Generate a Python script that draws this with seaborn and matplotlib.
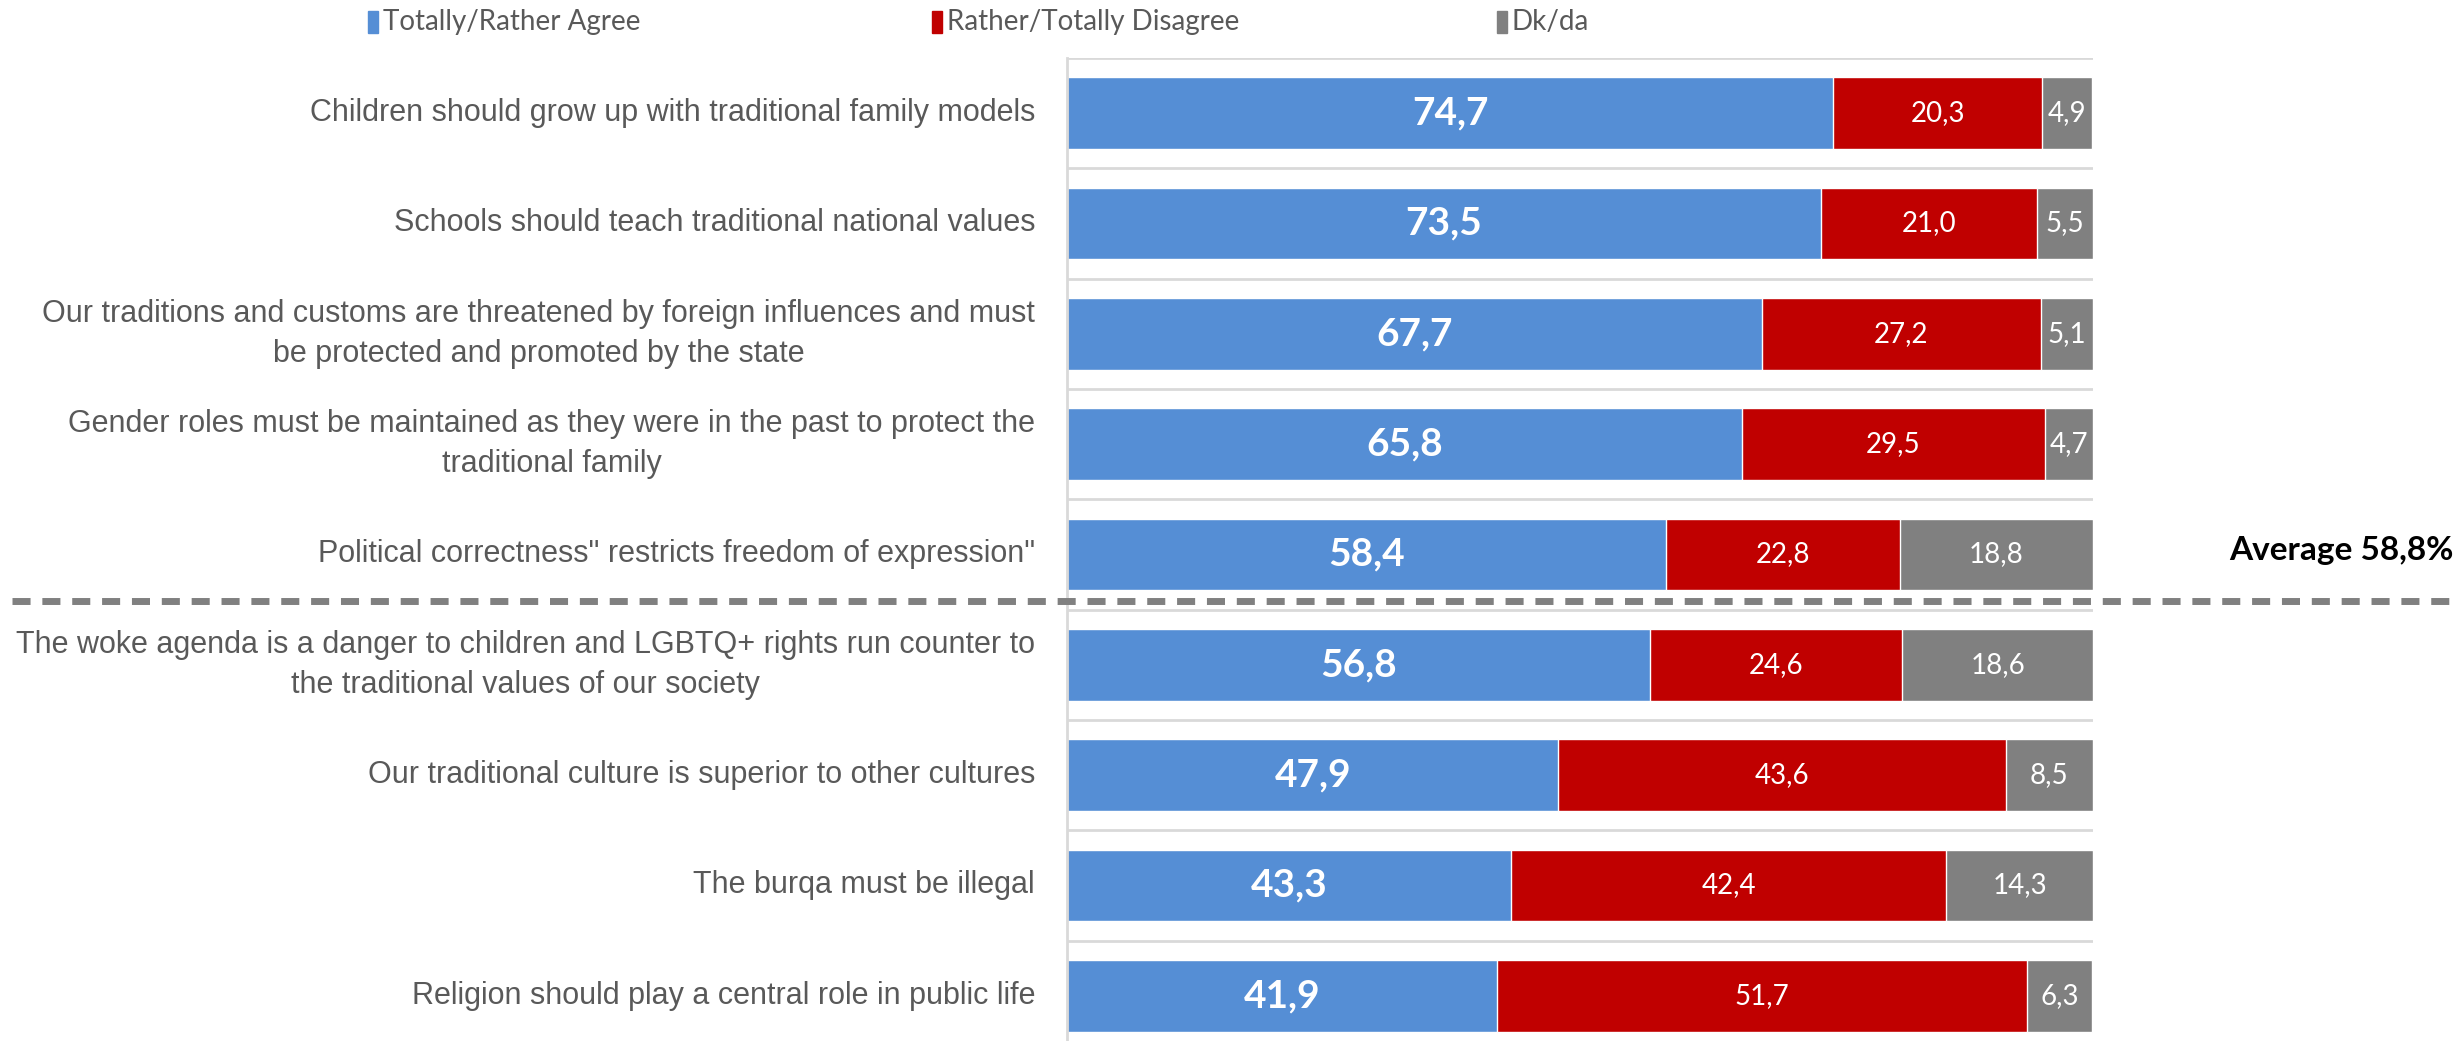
import numpy as np
import pandas as pd
import matplotlib
import matplotlib.pyplot as plt
import matplotlib.transforms as mtransforms
from matplotlib.patches import Rectangle
import seaborn as sns

categories = [
    "Children should grow up with traditional family models",
    "Schools should teach traditional national values",
    "Our traditions and customs are threatened by foreign influences and must\nbe protected and promoted by the state",
    "Gender roles must be maintained as they were in the past to protect the\ntraditional family",
    "Political correctness\" restricts freedom of expression\"",
    "The woke agenda is a danger to children and LGBTQ+ rights run counter to\nthe traditional values of our society",
    "Our traditional culture is superior to other cultures",
    "The burqa must be illegal",
    "Religion should play a central role in public life",
]
agree = [74.7, 73.5, 67.7, 65.8, 58.4, 56.8, 47.9, 43.3, 41.9]
disagree = [20.3, 21.0, 27.2, 29.5, 22.8, 24.6, 43.6, 42.4, 51.7]
dkda = [4.9, 5.5, 5.1, 4.7, 18.8, 18.6, 8.5, 14.3, 6.3]
series_names = ["Totally/Rather Agree", "Rather/Totally Disagree", "Dk/da"]
colors = ["#558ED5", "#C00000", "#808080"]
average_label = "Average 58,8%"

df = pd.DataFrame({"cat": categories, "agree": agree, "disagree": disagree, "dkda": dkda})
df["cum2"] = df["agree"] + df["disagree"]
df["cum3"] = df["cum2"] + df["dkda"]

sns.set_style("white")
label_font = ["Liberation Sans", "DejaVu Sans"]
num_font = ["Lato", "DejaVu Sans"]

fig = plt.figure(figsize=(24.58, 10.41), dpi=100)
ax = fig.add_axes([1067 / 2458, -0.0096, (2093 - 1067) / 2458, 0.954])

# stacked bars drawn back-to-front (cumulative totals)
sns.barplot(data=df, x="cum3", y="cat", color=colors[2], width=0.65, orient="h", ax=ax, saturation=1)
sns.barplot(data=df, x="cum2", y="cat", color=colors[1], width=0.65, orient="h", ax=ax, saturation=1)
sns.barplot(data=df, x="agree", y="cat", color=colors[0], width=0.65, orient="h", ax=ax, saturation=1)

ax.set_xlim(0, 100)
ax.set_ylim(len(categories) - 0.5, -0.5)
ax.set_xlabel("")
ax.set_ylabel("")
ax.set_xticks([])
for sp in ["top", "right", "bottom"]:
    ax.spines[sp].set_visible(False)
ax.spines["left"].set_color("#D9D9D9")
ax.spines["left"].set_linewidth(2)

# row separators
for b in np.arange(-0.5, len(categories), 1.0):
    ax.axhline(b, color="#D9D9D9", lw=2, zorder=0)

ax.tick_params(axis="y", length=0, pad=23)
ax.set_yticks(range(len(categories)))
ax.set_yticklabels(categories, fontsize=22, color="#595959", family=label_font)
for t in ax.get_yticklabels():
    t.set_multialignment("center")
    t.set_linespacing(1.45)
    t.set_va("center")

# value labels
for i, r in df.iterrows():
    ax.text(r["agree"] / 2, i, f"{r['agree']:.1f}".replace(".", ","), ha="center", va="center",
            color="white", fontsize=28, fontweight="bold", family=num_font)
    ax.text(r["agree"] + r["disagree"] / 2, i, f"{r['disagree']:.1f}".replace(".", ","), ha="center",
            va="center", color="white", fontsize=20, family=num_font)
    ax.text(r["cum2"] + r["dkda"] / 2, i, f"{r['dkda']:.1f}".replace(".", ","), ha="center",
            va="center", color="white", fontsize=20, family=num_font)

# dashed split line and average label
trans = mtransforms.blended_transform_factory(fig.transFigure, ax.transData)
ln, = ax.plot([0.005, 1.0], [4.42, 4.42], transform=trans, color="#808080", lw=5, clip_on=False, zorder=5)
ln.set_dashes([2.6, 1.7])
ax.text(0.998, 3.96, average_label, transform=trans, ha="right", va="center",
        fontsize=24, fontweight="bold", color="black", family=num_font)

# legend
for name, c, x0 in zip(series_names, colors, [373, 937, 1502]):
    fig.patches.append(Rectangle((x0 / 2458 - 0.002, 1 - 33 / 1041), 0.004, 22 / 1041,
                                 transform=fig.transFigure, color=c))
    fig.text(x0 / 2458 + 0.004, 1 - 22 / 1041, name, ha="left", va="center",
             fontsize=20, color="#595959", family=num_font)

plt.savefig("out.png", dpi=100)
plt.close()
